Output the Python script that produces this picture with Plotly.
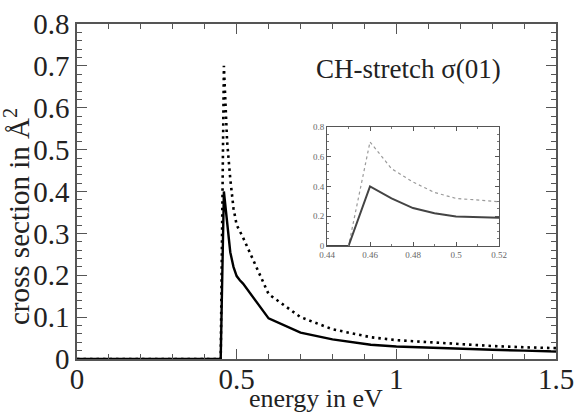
import plotly.graph_objects as go

# ---- data ----
energy = [0.0, 0.45, 0.46, 0.47, 0.48, 0.49, 0.50, 0.51, 0.52, 0.60,
          0.70, 0.80, 0.92, 1.00, 1.10, 1.20, 1.30, 1.40, 1.50]
sigma_solid = [0.0, 0.0, 0.40, 0.32, 0.255, 0.22, 0.198, 0.188, 0.18, 0.097,
               0.063, 0.047, 0.034, 0.030, 0.027, 0.024, 0.022, 0.020, 0.018]
sigma_dotted = [0.0, 0.0, 0.70, 0.52, 0.43, 0.36, 0.32, 0.305, 0.29, 0.155,
                0.100, 0.071, 0.052, 0.045, 0.040, 0.035, 0.031, 0.028, 0.026]

main_xticks = [0, 0.5, 1, 1.5]
main_yticks = [0, 0.1, 0.2, 0.3, 0.4, 0.5, 0.6, 0.7, 0.8]
inset_xticks = [0.44, 0.46, 0.48, 0.5, 0.52]
inset_yticks = [0, 0.2, 0.4, 0.6, 0.8]

FONT = "Liberation Serif"
W, H = 575, 412
L, R, T, B = 77, 19, 24, 53
PW, PH = W - L - R, H - T - B

def px_x(p):
    return (p - L) / PW

def px_y(p):
    return (H - B - p) / PH

fig = go.Figure()

# main plot
fig.add_trace(go.Scatter(x=energy, y=sigma_dotted, mode="lines",
                         line=dict(color="black", width=2.6, dash="2.5px,4px"),
                         xaxis="x", yaxis="y", showlegend=False))
fig.add_trace(go.Scatter(x=energy, y=sigma_solid, mode="lines",
                         line=dict(color="black", width=2.4),
                         xaxis="x", yaxis="y", showlegend=False))
# inset
fig.add_trace(go.Scatter(x=energy, y=sigma_dotted, mode="lines",
                         line=dict(color="#9a9a9a", width=1.2, dash="dot"),
                         xaxis="x2", yaxis="y2", showlegend=False))
fig.add_trace(go.Scatter(x=energy, y=sigma_solid, mode="lines",
                         line=dict(color="#444444", width=2),
                         xaxis="x2", yaxis="y2", showlegend=False))

axis_common = dict(showgrid=False, zeroline=False, showline=True, mirror="ticks",
                   ticks="inside", linecolor="#555555", tickcolor="#555555",
                   automargin=False)

fig.update_layout(
    template="none",
    width=W, height=H,
    margin=dict(l=L, r=R, t=T, b=B, autoexpand=False),
    paper_bgcolor="white", plot_bgcolor="white",
    font=dict(family=FONT, color="#222222"),
    xaxis=dict(**axis_common, domain=[0, 1], range=[0, 1.5],
               tickvals=main_xticks, ticktext=[str(v) for v in main_xticks],
               ticklen=10, tickwidth=1.3, linewidth=1.5, ticklabelstandoff=-7,
               minor=dict(ticks="inside", dtick=0.1, ticklen=5, tickcolor="#555555"),
               tickfont=dict(family=FONT, size=29, color="#222222")),
    yaxis=dict(**axis_common, domain=[0, 1], range=[0, 0.8],
               tickvals=main_yticks, ticktext=[str(v) for v in main_yticks],
               ticklen=10, tickwidth=1.3, linewidth=1.5,
               minor=dict(ticks="inside", dtick=0.02, ticklen=5, tickcolor="#555555"),
               tickfont=dict(family=FONT, size=29, color="#222222")),
    xaxis2=dict(**axis_common, domain=[px_x(327), px_x(499)], anchor="y2",
                range=[0.44, 0.52], tickvals=inset_xticks,
                ticktext=[str(v) for v in inset_xticks],
                ticklen=4, tickwidth=1, linewidth=1,
                minor=dict(ticks="inside", dtick=0.01, ticklen=2, tickcolor="#777777"),
                tickfont=dict(family=FONT, size=9, color="#666666")),
    yaxis2=dict(**axis_common, domain=[px_y(246), px_y(127)], anchor="x2",
                range=[0, 0.8], tickvals=inset_yticks,
                ticktext=[str(v) for v in inset_yticks],
                ticklen=4, tickwidth=1, linewidth=1,
                minor=dict(ticks="inside", dtick=0.05, ticklen=2, tickcolor="#777777"),
                tickfont=dict(family=FONT, size=9, color="#666666")),
    annotations=[
        dict(text="CH-stretch σ(01)", xref="paper", yref="paper",
             x=px_x(503), y=px_y(69), xanchor="right", yanchor="middle",
             showarrow=False, font=dict(family=FONT, size=27, color="#222222")),
        dict(text="energy in eV", xref="paper", yref="paper",
             x=px_x(316), y=px_y(399), xanchor="center", yanchor="middle",
             showarrow=False, font=dict(family=FONT, size=26, color="#222222")),
        dict(text="cross section in Å<sup>2</sup>", xref="paper", yref="paper",
             x=px_x(17), y=px_y(217), xanchor="center", yanchor="middle",
             textangle=-90, showarrow=False,
             font=dict(family=FONT, size=29, color="#222222")),
    ],
)

fig.write_html("out.html")
